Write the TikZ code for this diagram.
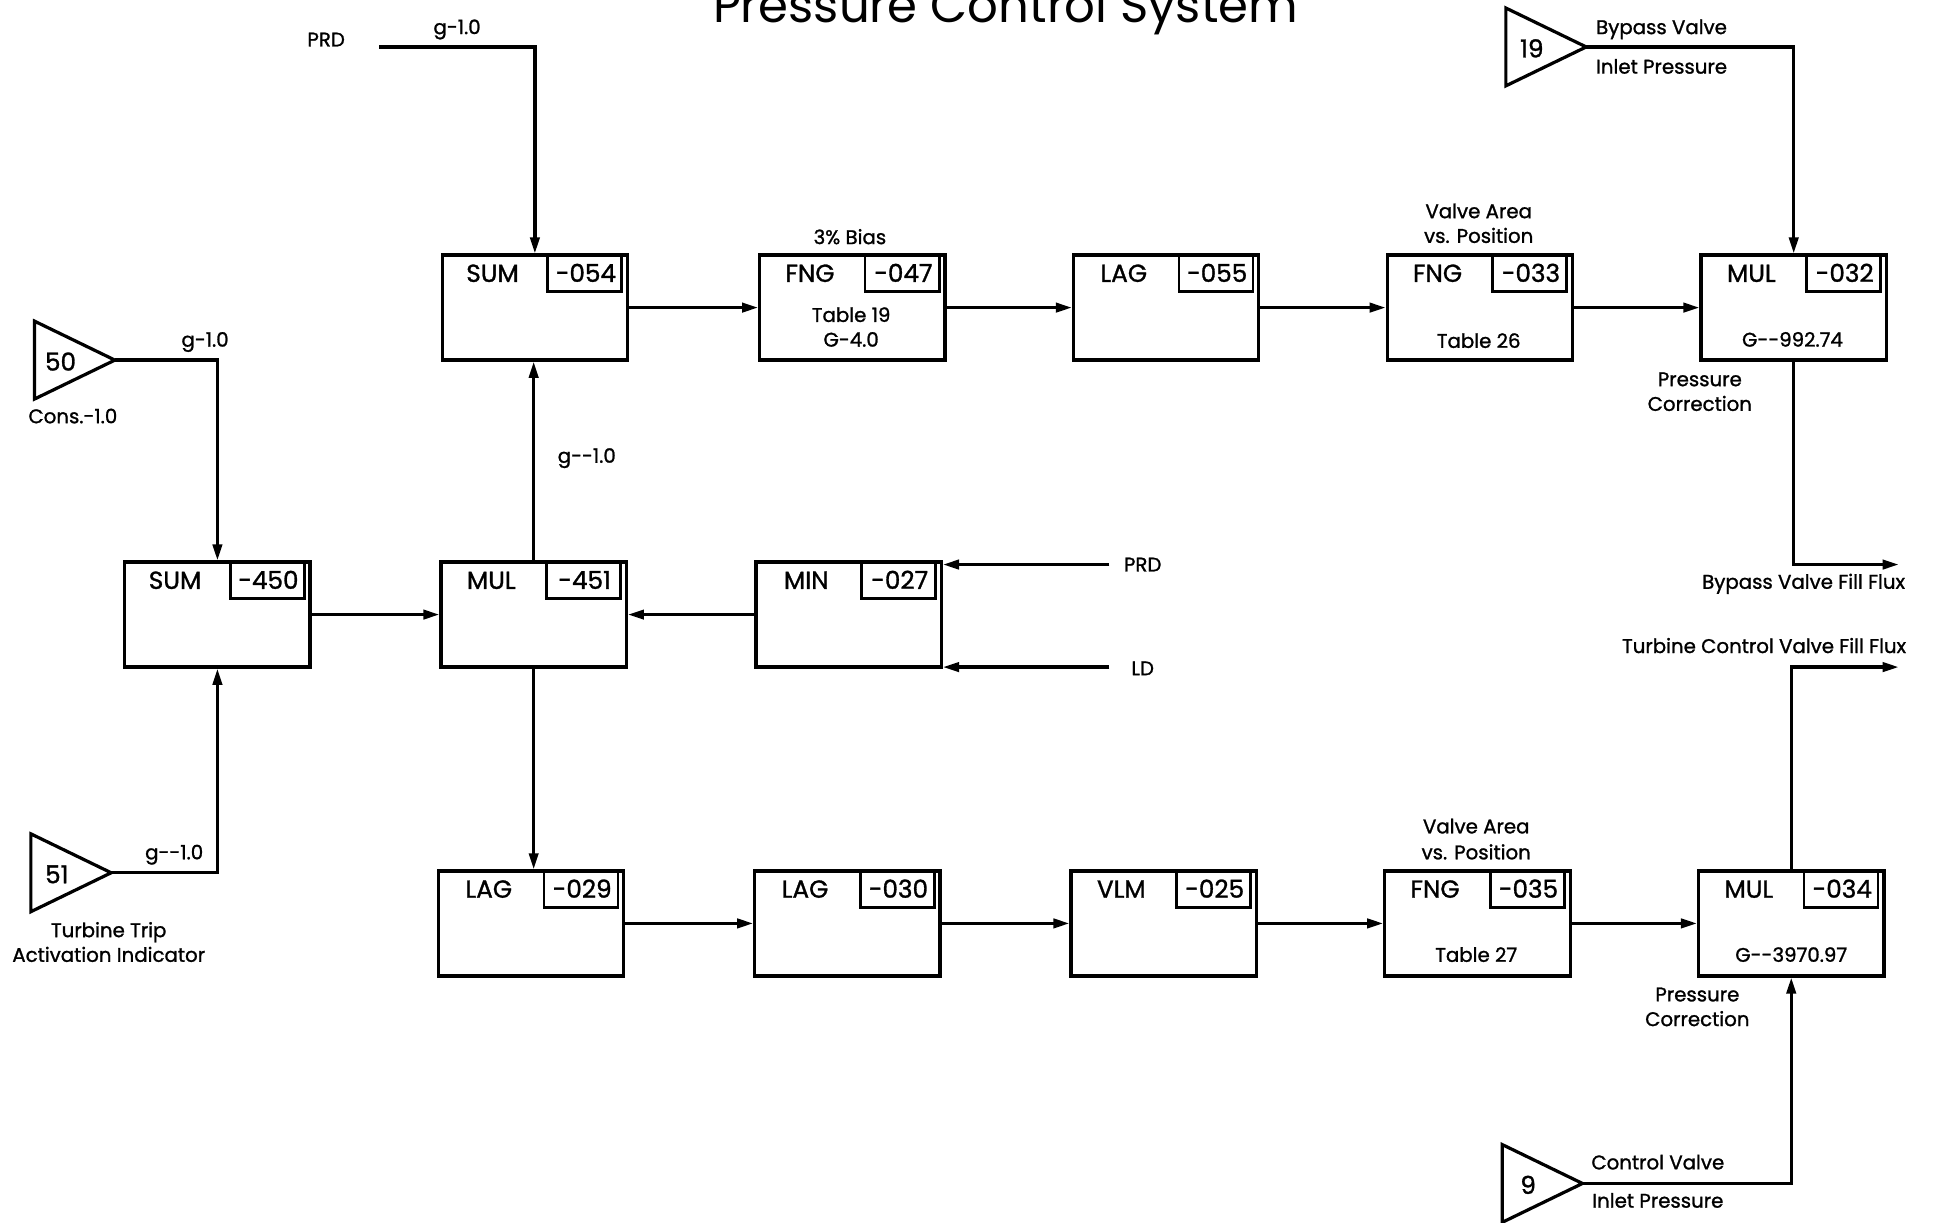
\documentclass[tikz,border=0pt]{standalone}
\usepackage{fontspec}
\setmainfont{Poppins}[FakeBold=1.2]
\newfontfamily\titlefont{Poppins}
\usetikzlibrary{arrows.meta,calc}
\tikzset{
  ln/.style={line width=2.6pt},
  arr/.style={line width=2.6pt,-{Triangle[length=13pt,width=7.5pt]}},
  blkbox/.style={draw,line width=2.6pt,minimum width=150pt,minimum height=85pt,inner sep=0pt},
  inbox/.style={line width=2.2pt},
  big/.style={font=\fontsize{20}{22}\selectfont,inner sep=0pt,text height=14pt,text depth=0pt},
  sml/.style={font=\fontsize{16}{19}\selectfont,inner sep=0pt,text height=11.2pt,text depth=0pt},
}
\newcommand{\blk}[5]{%
  \node[blkbox] (#1) at (#2,#3) {};
  \draw[inbox] ($(#1.north east)+(-66,2)$) -- ($(#1.north east)+(-66,31)$) -- ($(#1.north east)+(-6,31)$) -- ($(#1.north east)+(-6,2)$);
  \node[big] (#1t) at ($(#1.north west)+(42,16)$) {#4};
  \node[big] (#1i) at ($(#1.north east)+(-35,16)$) {#5};
}
\newcommand{\tri}[4]{%
  \draw[ln,line join=miter] (#2,#3-31.5) -- (#2+65,#3) -- (#2,#3+31.5) -- cycle;
  \coordinate (#1o) at (#2+65,#3);
  \node[big] (#1) at (#2+21,#3+1.5) {#4};
}
\begin{document}
\begin{tikzpicture}[x=1pt,y=-1pt]
\useasboundingbox (0,0) rectangle (1568,990);
\fill[white] (0,0) rectangle (1568,990);

\node[font=\titlefont\fontsize{39}{40}\selectfont,anchor=base,inner sep=0pt] (title) at (814,18) {Pressure Control System};

% blocks
\blk{s054}{433}{249}{SUM}{-054}
\blk{f047}{690}{249}{FNG}{-047}
\blk{l055}{944}{249}{LAG}{-055}
\blk{f033}{1198}{249}{FNG}{-033}
\blk{m032}{1452}{249}{MUL}{-032}
\blk{s450}{176}{497.5}{SUM}{-450}
\blk{m451}{432}{497.5}{MUL}{-451}
\blk{n027}{687}{497.5}{MIN}{-027}
\blk{l029}{430}{747.5}{LAG}{-029}
\blk{l030}{686}{747.5}{LAG}{-030}
\blk{v025}{942}{747.5}{VLM}{-025}
\blk{f035}{1196}{747.5}{FNG}{-035}
\blk{m034}{1450}{747.5}{MUL}{-034}

% inner texts
\node[sml] (f047a) at (689,255) {Table 19};
\node[sml] (f047b) at (689,275) {G-4.0};
\node[sml] (f033a) at (1197,276) {Table 26};
\node[sml] (m032a) at (1451,275) {G-{}-992.74};
\node[sml] (f035a) at (1195,773) {Table 27};
\node[sml] (m034a) at (1450,773) {G-{}-3970.97};

% labels above / below blocks
\node[sml] (bias) at (688,192) {3\% Bias};
\node[sml] (va1) at (1197,171) {Valve Area};
\node[sml] (va2) at (1197,191) {vs. Position};
\node[sml] (pc1) at (1376,307) {Pressure};
\node[sml] (pc2) at (1376,327) {Correction};
\node[sml] (vb1) at (1195,669) {Valve Area};
\node[sml] (vb2) at (1195,690) {vs. Position};
\node[sml] (pd1) at (1374,805) {Pressure};
\node[sml] (pd2) at (1374,825) {Correction};

% triangles
\tri{t19}{1219}{38}{19}
\tri{t50}{28}{291.5}{50}
\tri{t51}{25}{706.5}{51}
\tri{t9}{1216}{958}{9}

\node[sml] (t19a) at (1345,22) {Bypass Valve};
\node[sml] (t19b) at (1345,54) {Inlet Pressure};
\node[sml] (t50a) at (59,337) {Cons.-1.0};
\node[sml] (t51a) at (88,753) {Turbine Trip};
\node[sml] (t51b) at (88,773) {Activation Indicator};
\node[sml] (t9a) at (1342,941) {Control Valve};
\node[sml] (t9b) at (1342,972) {Inlet Pressure};

% external signals
\node[sml] (prdAt) at (264,32) {PRD};
\coordinate (prdA) at (307,38);
\node[sml] (prdBt) at (925,457) {PRD};
\coordinate (prdB) at (898,457);
\node[sml] (ldt) at (925,541) {LD};
\coordinate (ld) at (898,540);
\coordinate (bvff) at (1537,457);
\node[sml] (bvfft) at (1460,471) {Bypass Valve Fill Flux};
\coordinate (tcvff) at (1537,540);
\node[sml] (tcvfft) at (1428,523) {Turbine Control Valve Fill Flux};

% gains
\node[sml] (g1) at (370,22) {g-1.0};
\node[sml] (g2) at (166,275) {g-1.0};
\node[sml] (g3) at (475,369) {g-{}-1.0};
\node[sml] (g4) at (141,690) {g-{}-1.0};

% connectors
\draw[arr] (prdA) -| (s054.north);
\draw[arr] (s054.east) -- (f047.west);
\draw[arr] (f047.east) -- (l055.west);
\draw[arr] (l055.east) -- (f033.west);
\draw[arr] (f033.east) -- (m032.west);
\draw[arr] (t19o) -| (m032.north);
\draw[arr] (m032.south) |- (bvff);
\draw[arr] (t50o) -| (s450.north);
\draw[arr] (t51o) -| (s450.south);
\draw[arr] (s450.east) -- (m451.west);
\draw[arr] (n027.west) -- (m451.east);
\draw[arr] (m451.north) -- (m451.north |- s054.south);
\draw[arr] (m451.south) -- (m451.south |- l029.north);
\draw[arr] (prdB) -- (prdB -| n027.east);
\draw[arr] (ld) -- (ld -| n027.east);
\draw[arr] (l029.east) -- (l030.west);
\draw[arr] (l030.east) -- (v025.west);
\draw[arr] (v025.east) -- (f035.west);
\draw[arr] (f035.east) -- (m034.west);
\draw[arr] (t9o) -| (m034.south);
\draw[arr] (m034.north) |- (tcvff);
\end{tikzpicture}
\end{document}
